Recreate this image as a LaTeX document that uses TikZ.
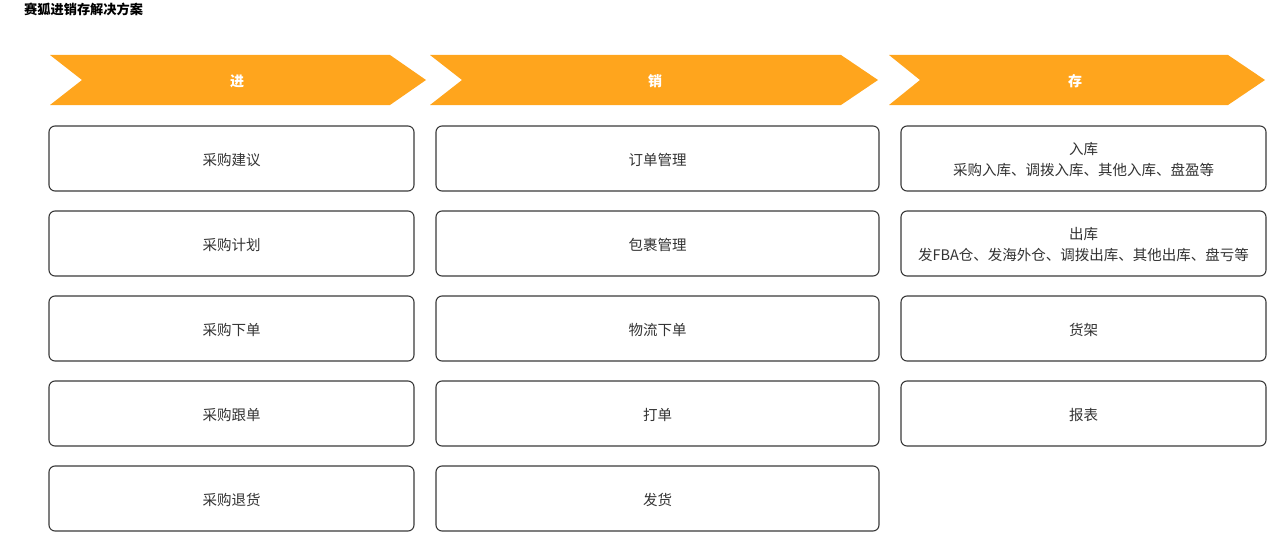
\documentclass[tikz,border=0pt]{standalone}
\usepackage{fontspec}
\setmainfont{Noto Sans CJK SC}
\definecolor{arrowfill}{HTML}{FFA51D}
\definecolor{boxline}{HTML}{3A3A3A}
\definecolor{txt}{HTML}{333333}
\tikzset{
  itembox/.style={draw=boxline, line width=1.1pt, rounded corners=6pt, fill=white,
    minimum height=65pt, inner sep=0pt, align=center, text=txt,
    font=\fontsize{14.5}{21}\selectfont},
  w1/.style={minimum width=365pt},
  w2/.style={minimum width=443pt},
  chev/.style={fill=arrowfill, draw=none},
  chevlabel/.style={text=white, font=\fontsize{14}{16}\selectfont\bfseries},
  boxtext/.style={text=txt, align=center, inner sep=0pt, font=\fontsize{14.5}{21}\selectfont},
}
\begin{document}
\begin{tikzpicture}[x=1pt,y=-1pt]
\useasboundingbox (0,0) rectangle (1280,535);
\node[anchor=west, text=black, font=\fontsize{13.2}{15}\selectfont\bfseries, inner sep=0pt] (title) at (24,9.5) {赛狐进销存解决方案};
% chevrons
\fill[chev] (50,55) -- (390,55) -- (426,80) -- (390,105) -- (50,105) -- (82,80) -- cycle;
\fill[chev] (430,55) -- (841,55) -- (878,80) -- (841,105) -- (430,105) -- (462,80) -- cycle;
\fill[chev] (889,55) -- (1228,55) -- (1265,80) -- (1228,105) -- (889,105) -- (920,80) -- cycle;
\node[chevlabel] (h1) at (237,81.5) {进};
\node[chevlabel] (h2) at (655,81.5) {销};
\node[chevlabel] (h3) at (1075,81.5) {存};
% column 1
\node[itembox,w1] (a1) at (231.5,158.5) {};
\node[itembox,w1] (a2) at (231.5,243.5) {};
\node[itembox,w1] (a3) at (231.5,328.5) {};
\node[itembox,w1] (a4) at (231.5,413.5) {};
\node[itembox,w1] (a5) at (231.5,498.5) {};
% column 2
\node[itembox,w2] (b1) at (657.5,158.5) {};
\node[itembox,w2] (b2) at (657.5,243.5) {};
\node[itembox,w2] (b3) at (657.5,328.5) {};
\node[itembox,w2] (b4) at (657.5,413.5) {};
\node[itembox,w2] (b5) at (657.5,498.5) {};
% column 3
\node[itembox,w1] (c1) at (1083.5,158.5) {};
\node[itembox,w1] (c2) at (1083.5,243.5) {};
\node[itembox,w1] (c3) at (1083.5,328.5) {};
\node[itembox,w1] (c4) at (1083.5,413.5) {};
% texts
\node[boxtext] (ta1) at ([yshift=-1.5pt]a1.center) {采购建议};
\node[boxtext] (ta2) at ([yshift=-1.5pt]a2.center) {采购计划};
\node[boxtext] (ta3) at ([yshift=-1.5pt]a3.center) {采购下单};
\node[boxtext] (ta4) at ([yshift=-1.5pt]a4.center) {采购跟单};
\node[boxtext] (ta5) at ([yshift=-1.5pt]a5.center) {采购退货};
\node[boxtext] (tb1) at ([yshift=-1.5pt]b1.center) {订单管理};
\node[boxtext] (tb2) at ([yshift=-1.5pt]b2.center) {包裹管理};
\node[boxtext] (tb3) at ([yshift=-1.5pt]b3.center) {物流下单};
\node[boxtext] (tb4) at ([yshift=-1.5pt]b4.center) {打单};
\node[boxtext] (tb5) at ([yshift=-1.5pt]b5.center) {发货};
\node[boxtext] (tc1) at ([yshift=-1.5pt]c1.center) {入库\\采购入库、调拨入库、其他入库、盘盈等};
\node[boxtext] (tc2) at ([yshift=-1.5pt]c2.center) {出库\\发FBA仓、发海外仓、调拨出库、其他出库、盘亏等};
\node[boxtext] (tc3) at ([yshift=-1.5pt]c3.center) {货架};
\node[boxtext] (tc4) at ([yshift=-1.5pt]c4.center) {报表};
\end{tikzpicture}
\end{document}
